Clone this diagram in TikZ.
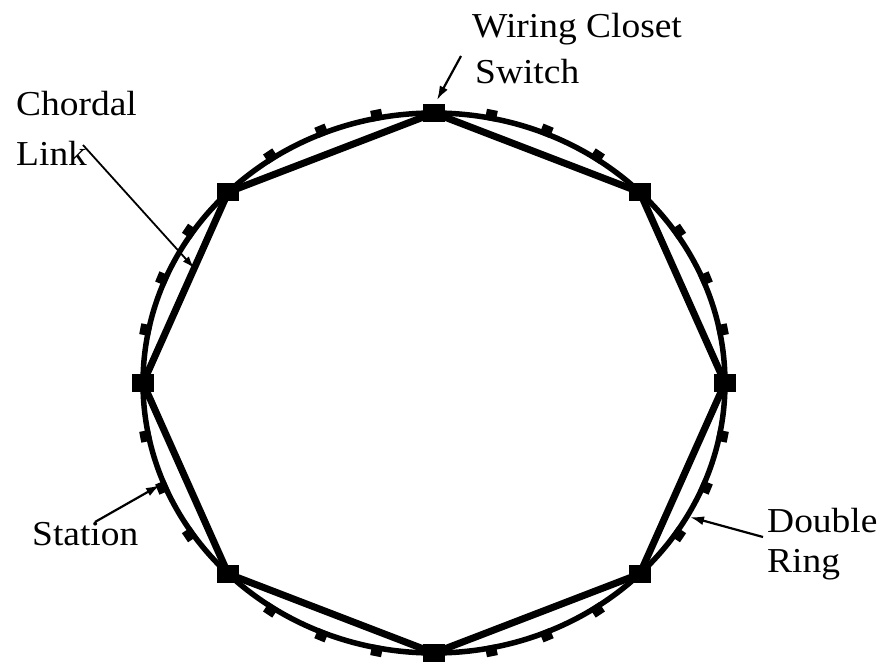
\documentclass[tikz,border=0pt]{standalone}
\usepackage{fontspec}
\setmainfont{Liberation Serif}
\usetikzlibrary{arrows.meta}
\begin{document}
\begin{tikzpicture}[x=1pt,y=-1pt,
  ring/.style={line width=5.5pt},
  chord/.style={line width=7pt},
  swbox/.style={fill=black,draw=none,minimum width=22pt,minimum height=18pt,inner sep=0pt},
  stbox/.style={fill=black,draw=none,minimum width=11pt,minimum height=11pt,inner sep=0pt},
  lbl/.style={font=\fontsize{35}{42}\selectfont,inner sep=0pt,anchor=base west,xscale=1.07,transform shape},
  pointer/.style={line width=2.2pt,-{Latex[length=14pt,width=9pt]}},
  thinpointer/.style={line width=1.8pt,-{Latex[length=12pt,width=8pt]}}]
\useasboundingbox (0,0) rectangle (887,664);
% double ring
\draw[ring] (434,383) ellipse [x radius=291, y radius=270];
% switches
\foreach \i/\a in {0/90,1/45,2/0,3/-45,4/-90,5/-135,6/180,7/135}{
  \node[swbox] (sw\i) at ({434+291*cos(\a)},{383-270*sin(\a)}) {};
}
% chordal links
\draw[chord,line join=round] (sw0.center) -- (sw1.center) -- (sw2.center) -- (sw3.center) -- (sw4.center) -- (sw5.center) -- (sw6.center) -- (sw7.center) -- cycle;
% stations
\foreach \k in {0,...,7}{
  \foreach \j in {1,2,3}{
    \pgfmathsetmacro{\b}{90+45*\k+11.25*\j}
    \node[stbox,rotate=\b] (st\k\j) at ({434+294*cos(\b)},{383-273*sin(\b)}) {};
  }
}
% labels
\node[lbl] (wc1) at (472,37) {Wiring Closet};
\node[lbl] (wc2) at (475,83) {Switch};
\node[lbl] (cl1) at (16,115) {Chordal};
\node[lbl] (cl2) at (16,165) {Link};
\node[lbl] (stl) at (32,545) {Station};
\node[lbl] (dr1) at (767,532) {Double};
\node[lbl] (dr2) at (767,572) {Ring};
% pointer ends
\coordinate (wcA) at (461,56);
\coordinate (wcB) at (437,100);
\coordinate (clA) at (83,145);
\coordinate (clB) at (194,268);
\coordinate (stA) at (95,522);
\coordinate (stB) at (160,485);
\coordinate (drA) at (763,537);
\coordinate (drB) at (690,517);
\draw[pointer] (wcA) -- (wcB);
\draw[thinpointer] (clA) -- (clB);
\draw[pointer] (stA) -- (stB);
\draw[pointer] (drA) -- (drB);
\end{tikzpicture}
\end{document}
